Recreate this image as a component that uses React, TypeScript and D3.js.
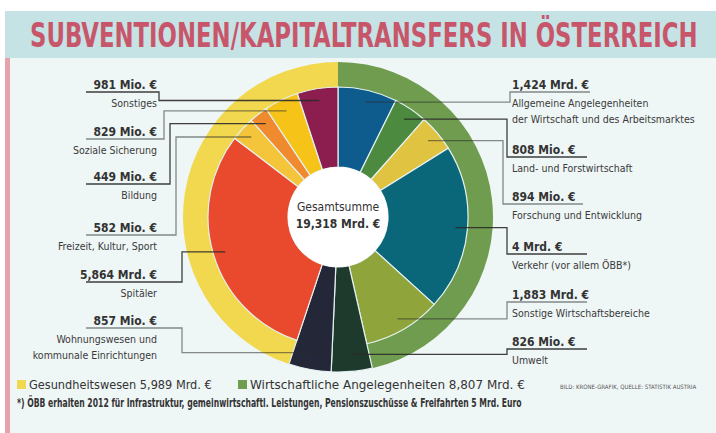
import { useLayoutEffect, useRef, useState } from "react";
import * as d3 from "d3";

// categories clockwise from 12 o'clock
const names = [
  ["Allgemeine Angelegenheiten", "der Wirtschaft und des Arbeitsmarktes"],
  ["Land- und Forstwirtschaft"],
  ["Forschung und Entwicklung"],
  ["Verkehr (vor allem ÖBB*)"],
  ["Sonstige Wirtschaftsbereiche"],
  ["Umwelt"],
  ["Wohnungswesen und", "kommunale Einrichtungen"],
  ["Spitäler"],
  ["Freizeit, Kultur, Sport"],
  ["Bildung"],
  ["Soziale Sicherung"],
  ["Sonstiges"],
];
const values = [1424, 808, 894, 4000, 1883, 826, 857, 5864, 582, 449, 829, 981];
const valueLabels = [
  "1,424 Mrd. €", "808 Mio. €", "894 Mio. €", "4 Mrd. €", "1,883 Mrd. €", "826 Mio. €",
  "857 Mio. €", "5,864 Mrd. €", "582 Mio. €", "449 Mio. €", "829 Mio. €", "981 Mio. €",
];
const groups = ["w", "w", "w", "w", "w", null, null, "g", "g", "g", "g", "g"];
const colors = [
  "#0e5c8e", "#4c8a3f", "#e0c340", "#0a6779", "#8fa53c", "#1d3a2c",
  "#232737", "#e9492d", "#f4c53a", "#f08a2e", "#f6c318", "#8b1e4e",
];

const legendNames = ["Gesundheitswesen 5,989 Mrd. €", "Wirtschaftliche Angelegenheiten 8,807 Mrd. €"];
const legendGroups = ["g", "w"];
const ringColors: Record<string, string> = { g: "#f1d84e", w: "#6f9c4e" };

// label layout: side, y of value text, bracket x
const sides = ["r", "r", "r", "r", "r", "r", "l", "l", "l", "l", "l", "l"];
const labelY = [85, 150, 197, 247, 295, 342, 321, 275, 228, 177, 132, 85];
const bracketX = [510, 507, 503, 507, 507, 507, 182, 182, 176, 170, 164, 159];

const W = 716;
const H = 433;
const cx = 338;
const cy = 217;
const rHole = 50;
const rWedge = 130;
const rOuter = 155;
const font = "'DejaVu Sans Condensed', 'Liberation Sans Narrow', 'Arial Narrow', sans-serif";

// text squeezed horizontally to a given width
function FitText(props: {
  x: number;
  y: number;
  width: number;
  size: number;
  bold?: boolean;
  fill: string;
  children: string;
}) {
  const ref = useRef<SVGTextElement>(null);
  const [k, setK] = useState(1);
  useLayoutEffect(() => {
    if (!ref.current) return;
    const w = ref.current.getComputedTextLength();
    if (w > 0) setK(props.width / w);
  }, [props.width, props.children]);
  return (
    <g transform={`translate(${props.x},${props.y}) scale(${k},1)`}>
      <text
        ref={ref}
        fontFamily={font}
        fontWeight={props.bold ? "bold" : "normal"}
        fontSize={props.size}
        fill={props.fill}
      >
        {props.children}
      </text>
    </g>
  );
}

export default function App() {
  const pie = d3.pie<number>().sort(null).value((d) => d)(values);
  const arc = d3.arc<d3.PieArcDatum<number>>();

  const ringArcs = legendGroups.map((g) => {
    const members = pie.filter((_, i) => groups[i] === g);
    return {
      g,
      path: d3.arc()({
        innerRadius: rWedge - 2,
        outerRadius: rOuter,
        startAngle: d3.min(members, (m) => m.startAngle)!,
        endAngle: d3.max(members, (m) => m.endAngle)!,
      }) as string,
    };
  });

  const leaders = pie.map((p, i) => {
    const mid = (p.startAngle + p.endAngle) / 2;
    const r = groups[i] ? 118 : 138;
    const ex = cx + r * Math.sin(mid);
    const ey = cy - r * Math.cos(mid);
    const uy = labelY[i] + 7;
    const bx = bracketX[i];
    const ux = sides[i] === "r" ? bx + 80 : 86;
    return { ex, ey, uy, bx, ux };
  });

  return (
    <div style={{ position: "absolute", left: 0, top: 0 }}>
      <svg width={W} height={H} style={{ display: "block" }}>
        <rect width={W} height={H} fill="#ffffff" />
        <rect x={5} y={11} width={W - 5} height={H - 11} fill="#eff6f6" />
        <rect x={5} y={11} width={W - 5} height={47} fill="#c5e2e4" />
        <rect x={5} y={58} width={5} height={H - 58} fill="#e6a3aa" />
        <FitText x={30} y={47} width={668} size={33} bold fill="#c8566b">
          SUBVENTIONEN/KAPITALTRANSFERS IN ÖSTERREICH
        </FitText>

        <g transform={`translate(${cx},${cy})`}>
          {ringArcs.map((r) => (
            <path key={r.g} d={r.path} fill={ringColors[r.g]} />
          ))}
          {pie.map((p, i) => (
            <path
              key={i}
              d={arc.innerRadius(rHole).outerRadius(groups[i] ? rWedge : rOuter)(p) as string}
              fill={colors[i]}
              stroke="#e4f1f1"
              strokeWidth={1.2}
            />
          ))}
          <circle r={rHole} fill="#ffffff" />
          <text y={-6} textAnchor="middle" fontFamily={font} fontSize={12} fill="#333">
            Gesamtsumme
          </text>
          <text y={11} textAnchor="middle" fontFamily={font} fontWeight="bold" fontSize={12} fill="#333">
            19,318 Mrd. €
          </text>
        </g>

        {leaders.map((l, i) => (
          <g key={i}>
            <polyline
              points={`${l.ux},${l.uy} ${l.bx},${l.uy} ${l.bx},${l.ey} ${l.ex},${l.ey}`}
              fill="none"
              stroke="#2b2b2b"
              strokeWidth={1.3}
              opacity={i % 2 ? 0.9 : 0.55}
            />
            <text
              x={sides[i] === "r" ? 512 : 157}
              y={labelY[i] + 4}
              textAnchor={sides[i] === "r" ? "start" : "end"}
              fontFamily={font}
              fontWeight="bold"
              fontSize={12}
              fill="#333"
            >
              {valueLabels[i]}
            </text>
            {names[i].map((s, j) => (
              <text
                key={j}
                x={sides[i] === "r" ? 512 : 157}
                y={labelY[i] + 22 + j * 16}
                textAnchor={sides[i] === "r" ? "start" : "end"}
                fontFamily={font}
                fontSize={10.5}
                fill="#3a3a3a"
              >
                {s}
              </text>
            ))}
          </g>
        ))}

        {legendNames.map((n, i) => (
          <g key={n}>
            <rect x={i === 0 ? 17 : 238} y={380} width={9} height={9} fill={ringColors[legendGroups[i]]} />
            <FitText x={i === 0 ? 29 : 250} y={389} width={i === 0 ? 183 : 275} size={12} fill="#333">
              {n}
            </FitText>
          </g>
        ))}
        <text x={560} y={389} fontFamily={font} fontSize={6} fill="#555">
          BILD: KRONE-GRAFIK, QUELLE: STATISTIK AUSTRIA
        </text>
        <FitText x={17} y={407} width={505} size={12} bold fill="#333">
          *) ÖBB erhalten 2012 für Infrastruktur, gemeinwirtschaftl. Leistungen, Pensionszuschüsse &amp; Freifahrten 5 Mrd. Euro
        </FitText>
      </svg>
    </div>
  );
}
